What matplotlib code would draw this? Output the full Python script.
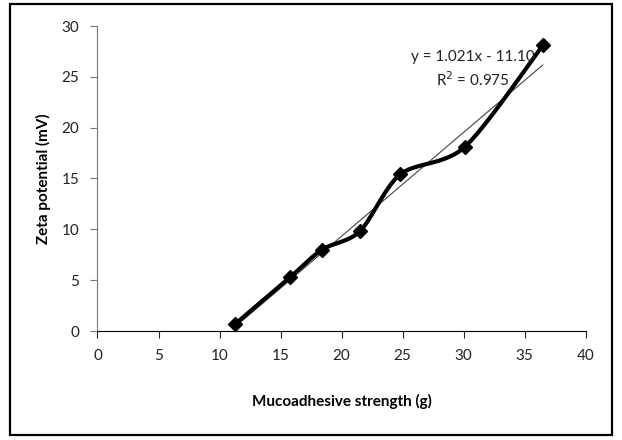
"""
Zeta potential vs mucoadhesive strength
"""
import numpy as np
import matplotlib
matplotlib.use("Agg")
import matplotlib.pyplot as plt
from matplotlib.patches import Rectangle

# data
strength = [11.3, 15.8, 18.4, 21.5, 24.8, 30.1, 36.5]
zeta = [0.7, 5.3, 8.0, 9.8, 15.4, 18.1, 28.1]
slope = 1.021
intercept = -11.10
r2 = 0.975
x_ticks = [0, 5, 10, 15, 20, 25, 30, 35, 40]
y_ticks = [0, 5, 10, 15, 20, 25, 30]


def smooth_curve(xs, ys, n=30):
    """
    Excel-style smoothed line (Catmull-Rom / cubic Bezier through points).
    """
    pts = np.column_stack([xs, ys])
    out = [pts[0]]
    for i in range(len(pts) - 1):
        p0 = pts[i - 1] if i > 0 else pts[i]
        p1 = pts[i]
        p2 = pts[i + 1]
        p3 = pts[i + 2] if i + 2 < len(pts) else pts[i + 1]
        c1 = p1 + (p2 - p0) / 7.0
        c2 = p2 - (p3 - p1) / 7.0
        t = np.linspace(0, 1, n)[1:, None]
        seg = ((1 - t) ** 3) * p1 + 3 * ((1 - t) ** 2) * t * c1 \
            + 3 * (1 - t) * t ** 2 * c2 + t ** 3 * p2
        out.extend(seg)
    out = np.array(out)
    return out[:, 0], out[:, 1]


plt.rcParams['font.family'] = ['Lato', 'DejaVu Sans']

fig = plt.figure(figsize=(6.22, 4.4), dpi=100)
ax = fig.add_axes([97.5 / 622, 1 - 331 / 440, 488 / 622, 305 / 440])

# outer chart border
fig.patches.append(Rectangle((10 / 622, 5 / 440), 602 / 622, 431 / 440,
                             transform=fig.transFigure, fill=False,
                             edgecolor='black', linewidth=1.6))

# trendline
tx = np.array([min(strength), max(strength)])
ax.plot(tx, slope * tx + intercept, color='#444444', linewidth=0.8, zorder=2)

# smoothed data line + markers
sx, sy = smooth_curve(strength, zeta)
ax.plot(sx, sy, color='black', linewidth=3, zorder=3, solid_capstyle='round')
ax.plot(strength, zeta, linestyle='none', marker='D', markersize=7,
        color='black', zorder=4)

ax.text(30.8, 27.0, f'y = {slope:.3f}x - {abs(intercept):.2f}', ha='center',
        va='center', fontsize=11, color='#222222')
ax.text(30.8, 24.7, f'R$^2$ = {r2:.3f}', ha='center', va='center',
        fontsize=11, color='#222222')

ax.set_xlim(0, 40)
ax.set_ylim(0, 30)
ax.set_xticks(x_ticks)
ax.set_yticks(y_ticks)
ax.spines['top'].set_visible(False)
ax.spines['right'].set_visible(False)
ax.spines['left'].set_color('#777777')
ax.spines['bottom'].set_color('black')
ax.tick_params(axis='both', direction='out', length=5, labelsize=11,
               colors='#222222', pad=8)
ax.tick_params(axis='y', color='#777777')

ax.set_xlabel('Mucoadhesive strength (g)', fontsize=11, fontweight='bold',
              labelpad=22)
ax.set_ylabel('Zeta potential (mV)', fontsize=11, fontweight='bold',
              labelpad=8)

fig.savefig('out.png', dpi=100)
